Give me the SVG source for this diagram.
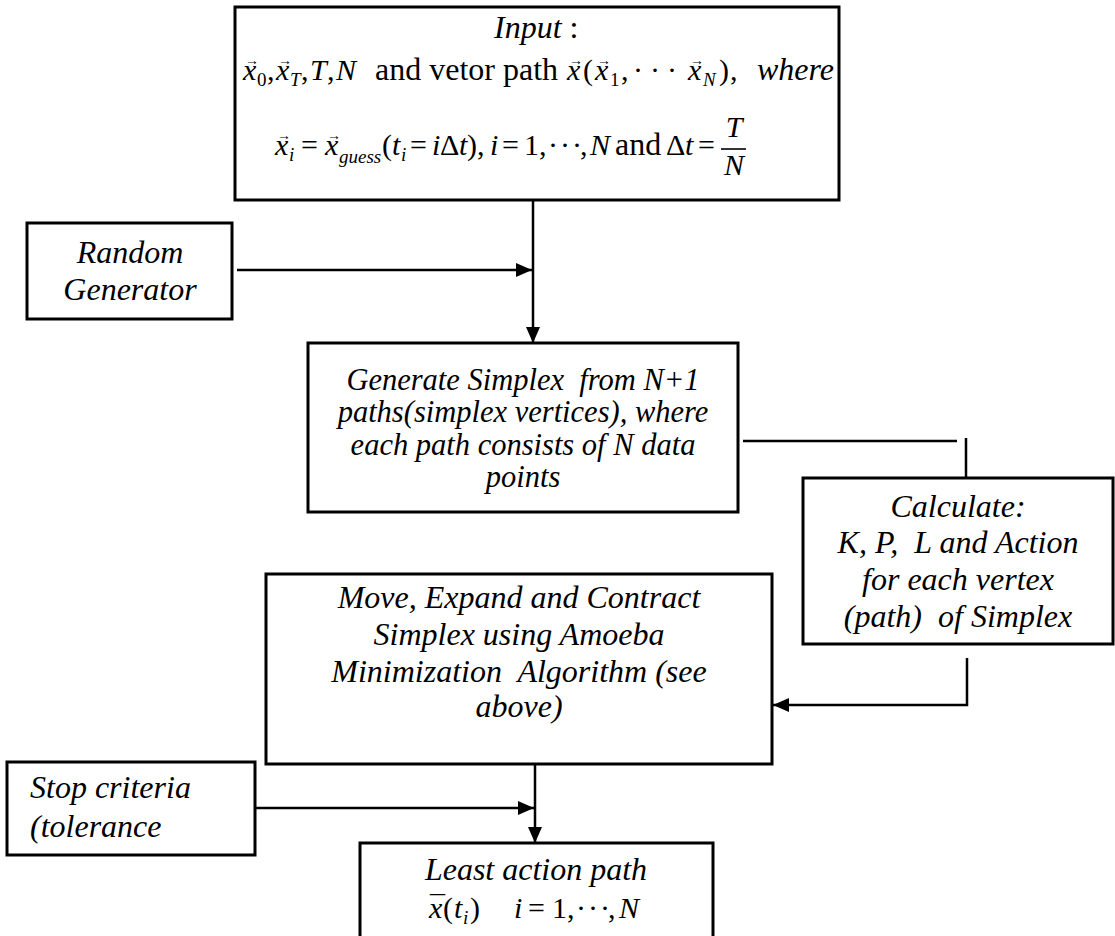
<svg xmlns="http://www.w3.org/2000/svg" width="1115" height="936" viewBox="0 0 1115 936">
<style>
.box{fill:#fff;stroke:#000;stroke-width:3}
.con{fill:none;stroke:#000;stroke-width:2.5}
text{font-family:"Liberation Serif","Times New Roman",serif;fill:#000}
.it{font-style:italic;font-size:32px}
.m{font-size:30px}
.mi{font-size:30px;font-style:italic}
.sb{font-size:19px}
.sbi{font-size:19px;font-style:italic}
.ar{font-size:14px}
.c{text-anchor:middle}
</style>
<defs>
<marker id="ah" viewBox="0 0 16 14" refX="16" refY="7" markerWidth="16" markerHeight="14" markerUnits="userSpaceOnUse" orient="auto">
<path d="M0,0 L16,7 L0,14 z" fill="#000"/>
</marker>
</defs>
<g id="connectors">
<path class="con" d="M533,200 V343" marker-end="url(#ah)"/>
<path class="con" d="M237,270 H532" marker-end="url(#ah)"/>
<path class="con" d="M743,441 H957 M966,438 V478"/>
<path class="con" d="M967,658 V705 H773" marker-end="url(#ah)"/>
<path class="con" d="M255,808 H534" marker-end="url(#ah)"/>
<path class="con" d="M535,764 V843" marker-end="url(#ah)"/>
</g>
<g id="input">
<rect class="box" x="235" y="7" width="604" height="193"/>
<text x="494" y="38"><tspan class="it">Input</tspan><tspan font-size="32"> :</tspan></text>
<text y="80">
<tspan class="mi" x="243">x</tspan><tspan class="sb" x="257" y="86">0</tspan><tspan class="m" x="267" y="80">,</tspan>
<tspan class="mi" x="276">x</tspan><tspan class="sbi" x="290" y="86">T</tspan><tspan class="m" x="301" y="80">,</tspan>
<tspan class="mi" x="310">T</tspan><tspan class="m" x="327">,</tspan><tspan class="mi" x="336">N</tspan>
<tspan font-size="32" x="375">and vetor path</tspan>
<tspan class="mi" x="567">x</tspan><tspan class="m" x="583">(</tspan><tspan class="mi" x="595">x</tspan><tspan class="sb" x="610" y="86">1</tspan><tspan class="m" x="621" y="80">,</tspan>
<tspan class="m" x="633" letter-spacing="7">···</tspan><tspan class="mi" x="688">x</tspan><tspan class="sbi" x="703" y="86">N</tspan><tspan class="m" x="719" y="80">)</tspan><tspan class="m" x="730">,</tspan>
<tspan class="it" x="757">where</tspan>
</text>
<text class="ar"><tspan x="245" y="65">→</tspan><tspan x="278" y="65">→</tspan><tspan x="569" y="65">→</tspan><tspan x="597" y="65">→</tspan><tspan x="690" y="65">→</tspan></text>
<text y="155">
<tspan class="mi" x="275">x</tspan><tspan class="sbi" x="289" y="161">i</tspan><tspan class="m" x="301" y="155">=</tspan>
<tspan class="mi" x="325">x</tspan><tspan class="sbi" x="339" y="163">guess</tspan><tspan class="m" x="382" y="155">(</tspan>
<tspan class="mi" x="392">t</tspan><tspan class="sbi" x="401" y="161">i</tspan><tspan class="m" x="410" y="155">=</tspan>
<tspan class="mi" x="432">i</tspan><tspan class="m" x="440">Δ</tspan><tspan class="mi" x="459">t</tspan><tspan class="m" x="467">),</tspan>
<tspan class="mi" x="490">i</tspan><tspan class="m" x="502">=</tspan><tspan class="m" x="524">1,</tspan><tspan class="m" x="548" letter-spacing="2">···</tspan><tspan class="m" x="580">,</tspan>
<tspan class="mi" x="590">N</tspan><tspan font-size="32" x="615">and</tspan><tspan class="m" x="666">Δ</tspan><tspan class="mi" x="685">t</tspan><tspan class="m" x="698">=</tspan>
</text>
<text class="ar"><tspan x="277" y="140">→</tspan><tspan x="327" y="140">→</tspan></text>
<path d="M721,149 H746" stroke="#000" stroke-width="1.6"/>
<text class="mi c" x="734" y="137">T</text>
<text class="mi c" x="734" y="175">N</text>
</g>
<g id="random">
<rect class="box" x="27" y="223" width="205" height="96"/>
<text class="it c" x="130" y="263">Random</text>
<text class="it c" x="130" y="300">Generator</text>
</g>
<g id="generate">
<rect class="box" x="308" y="343" width="430" height="169"/>
<text class="c" x="523" font-style="italic" font-size="30.5" xml:space="preserve"><tspan x="523" y="390">Generate Simplex  from N+1</tspan><tspan x="523" y="422">paths(simplex vertices), where</tspan><tspan x="523" y="455">each path consists of N data</tspan><tspan x="523" y="487">points</tspan></text>
</g>
<g id="calculate">
<rect class="box" x="803" y="478" width="310" height="166"/>
<text class="it c" xml:space="preserve"><tspan x="958" y="517">Calculate:</tspan><tspan x="958" y="553">K, P,  L and Action</tspan><tspan x="958" y="590">for each vertex</tspan><tspan x="958" y="627">(path)  of Simplex</tspan></text>
</g>
<g id="move">
<rect class="box" x="266" y="574" width="506" height="190"/>
<text class="it c" xml:space="preserve"><tspan x="519" y="608">Move, Expand and Contract</tspan><tspan x="519" y="645">Simplex using Amoeba</tspan><tspan x="519" y="682">Minimization  Algorithm (see</tspan><tspan x="519" y="717">above)</tspan></text>
</g>
<g id="stop">
<rect class="box" x="7" y="762" width="248" height="93"/>
<text class="it"><tspan x="30" y="798">Stop criteria</tspan><tspan x="30" y="837">(tolerance</tspan></text>
</g>
<g id="least">
<rect class="box" x="360" y="843" width="353" height="110"/>
<text class="it c" x="536" y="880">Least action path</text>
<text y="918">
<tspan class="mi" x="429">x</tspan><tspan class="m" x="443">(</tspan><tspan class="mi" x="454">t</tspan><tspan class="sbi" x="463" y="924">i</tspan><tspan class="m" x="470" y="918">)</tspan>
<tspan class="mi" x="514">i</tspan><tspan class="m" x="528">=</tspan><tspan class="m" x="552">1,</tspan><tspan class="m" x="576" letter-spacing="2">···</tspan><tspan class="m" x="608">,</tspan><tspan class="mi" x="619">N</tspan>
</text>
<text class="m" x="430" y="916">¯</text>
</g>
</svg>
